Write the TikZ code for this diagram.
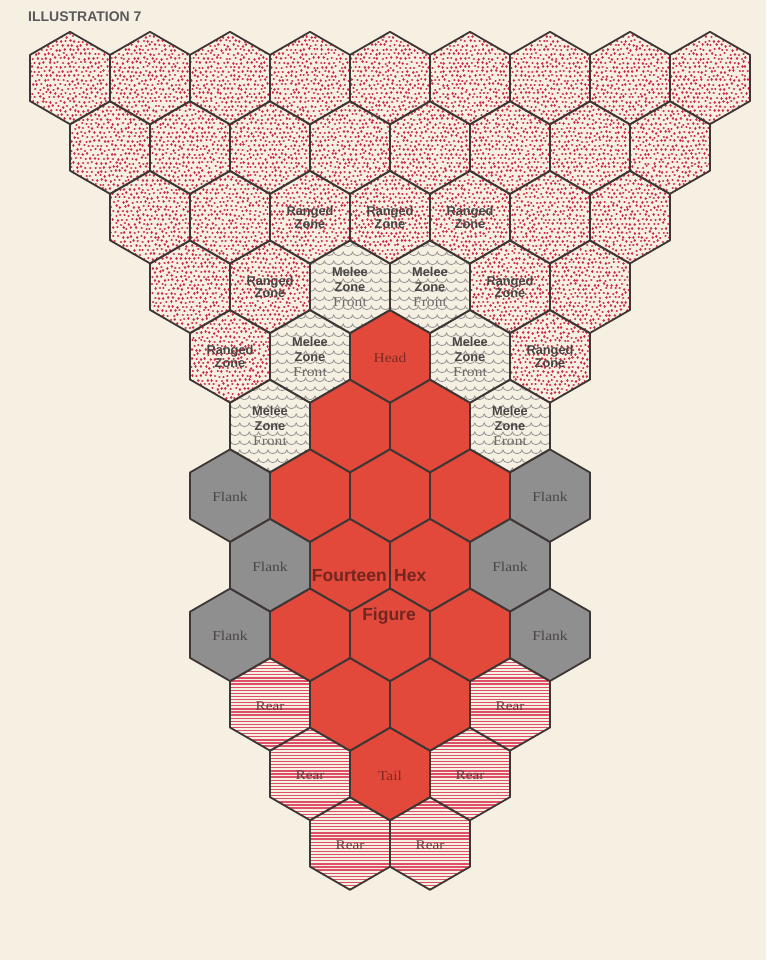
\documentclass[tikz,border=0pt]{standalone}
\usepackage{fontspec}
\setmainfont{Liberation Serif}
\setsansfont{Liberation Sans}
\newfontfamily\lblserif[FakeStretch=1.15]{Liberation Serif}
\definecolor{paper}{HTML}{F6F0E3}
\definecolor{hexred}{HTML}{E2493A}
\definecolor{flankgray}{HTML}{8F8F8F}
\definecolor{edge}{HTML}{3D3634}
\definecolor{dotred}{HTML}{CC2C46}
\definecolor{stripe}{HTML}{DC4F66}
\definecolor{wave}{HTML}{959391}
\definecolor{inkgray}{HTML}{4A4545}
\definecolor{inkred}{HTML}{7E2A22}
\definecolor{frontgray}{HTML}{6E6A68}
\newcommand\hx[2]{(#1,#2-46.2) -- (#1+40,#2-23.1) -- (#1+40,#2+23.1) -- (#1,#2+46.2) -- (#1-40,#2+23.1) -- (#1-40,#2-23.1) -- cycle}
\begin{document}
\begin{tikzpicture}[x=1pt,y=-1pt,
  hexedge/.style={draw=edge,line width=1.8pt,line join=round},
  dotstyle/.style={draw=dotred,line width=2.5pt,line cap=round},
  ranged/.style={font=\sffamily\bfseries\fontsize{12.8}{12.8}\selectfont,text=inkgray,align=center,inner sep=0pt},
  melee/.style={font=\sffamily\bfseries\fontsize{12.8}{15}\selectfont,text=inkgray,align=center,inner sep=0pt},
  redlbl/.style={font=\lblserif\fontsize{13.5}{13.5}\selectfont,text=inkred,inner sep=0pt},
  flanklbl/.style={font=\lblserif\fontsize{13.5}{13.5}\selectfont,text=inkgray,inner sep=0pt},
  rearlbl/.style={font=\lblserif\fontsize{13.3}{13.3}\selectfont,text=inkgray!90!red,inner sep=0pt},
  biglbl/.style={font=\sffamily\bfseries\fontsize{17.5}{17.5}\selectfont,text=inkred!90!black,inner sep=0pt},
  titlelbl/.style={font=\sffamily\bfseries\fontsize{14}{14}\selectfont,text=black!65,inner sep=0pt}]
\useasboundingbox (0,0) rectangle (766,960);
\fill[paper] (0,0) rectangle (766,960);
% red figure
\fill[hexred] \hx{390}{356.4}
  \hx{350}{426} \hx{430}{426}
  \hx{310}{495.6} \hx{390}{495.6} \hx{470}{495.6}
  \hx{350}{565.2} \hx{430}{565.2}
  \hx{310}{634.8} \hx{390}{634.8} \hx{470}{634.8}
  \hx{350}{704.4} \hx{430}{704.4}
  \hx{390}{774};
% flanks
\fill[flankgray] \hx{230}{495.6} \hx{550}{495.6} \hx{270}{565.2} \hx{510}{565.2} \hx{230}{634.8} \hx{550}{634.8};
% dotted zone
\begin{scope}
\clip \foreach \x in {70,150,...,710} {\hx{\x}{78}}
      \foreach \x in {110,190,...,670} {\hx{\x}{147.6}}
      \foreach \x in {150,230,...,630} {\hx{\x}{217.2}}
      \foreach \x in {190,270,510,590} {\hx{\x}{286.8}}
      \foreach \x in {230,550} {\hx{\x}{356.4}};
\pgfmathsetseed{7}
\foreach \j in {0,...,88} {
  \draw[dotstyle] \foreach \i in {0,...,160} { ({26+\i*4.6+mod(\j,2)*2.3+rand*1.1},{28+\j*4.35+rand*1.1}) -- ++(0.05,0) };
}
\end{scope}
% melee waves
\begin{scope}
\clip \hx{350}{286.8} \hx{430}{286.8} \hx{310}{356.4} \hx{470}{356.4} \hx{270}{426} \hx{510}{426};
\foreach \j in {0,...,28} {
  \draw[wave,line width=0.8pt] (221,234+\j*9) \foreach \i in {1,...,38} { arc[start angle=180,end angle=0,x radius=4.7,y radius=3.6] };
}
\end{scope}
% rear stripes
\begin{scope}
\clip \hx{270}{704.4} \hx{510}{704.4} \hx{310}{774} \hx{470}{774} \hx{350}{843.6} \hx{430}{843.6};
\draw[stripe,line width=1.35pt] \foreach \j in {0,...,80} { (220,650+\j*3.1) -- (560,650+\j*3.1) };
\end{scope}
% outlines
\draw[hexedge]
  \foreach \x in {70,150,...,710} {\hx{\x}{78}}
  \foreach \x in {110,190,...,670} {\hx{\x}{147.6}}
  \foreach \x in {150,230,...,630} {\hx{\x}{217.2}}
  \foreach \x in {190,270,...,590} {\hx{\x}{286.8}}
  \foreach \x in {230,310,...,550} {\hx{\x}{356.4}}
  \foreach \x in {270,350,...,510} {\hx{\x}{426}}
  \foreach \x in {230,310,...,550} {\hx{\x}{495.6}}
  \foreach \x in {270,350,...,510} {\hx{\x}{565.2}}
  \foreach \x in {230,310,...,550} {\hx{\x}{634.8}}
  \foreach \x in {270,350,...,510} {\hx{\x}{704.4}}
  \foreach \x in {310,390,470} {\hx{\x}{774}}
  \foreach \x in {350,430} {\hx{\x}{843.6}};
% labels
\node[titlelbl,anchor=west] (title) at (28,17) {ILLUSTRATION 7};
\node[ranged] (r1) at (310,217.5) {Ranged\\Zone};
\node[ranged] (r2) at (390,217.5) {Ranged\\Zone};
\node[ranged] (r3) at (470,217.5) {Ranged\\Zone};
\node[ranged] (r4) at (270,287) {Ranged\\Zone};
\node[ranged] (r5) at (510,287) {Ranged\\Zone};
\node[ranged] (r6) at (230,356.5) {Ranged\\Zone};
\node[ranged] (r7) at (550,356.5) {Ranged\\Zone};
\node[melee] (m1) at (350,287) {Melee\\Zone\\{\lblserif\mdseries\fontsize{13.5}{15}\selectfont\color{frontgray}Front}};
\node[melee] (m2) at (430,287) {Melee\\Zone\\{\lblserif\mdseries\fontsize{13.5}{15}\selectfont\color{frontgray}Front}};
\node[melee] (m3) at (310,356.5) {Melee\\Zone\\{\lblserif\mdseries\fontsize{13.5}{15}\selectfont\color{frontgray}Front}};
\node[melee] (m4) at (470,356.5) {Melee\\Zone\\{\lblserif\mdseries\fontsize{13.5}{15}\selectfont\color{frontgray}Front}};
\node[melee] (m5) at (270,426) {Melee\\Zone\\{\lblserif\mdseries\fontsize{13.5}{15}\selectfont\color{frontgray}Front}};
\node[melee] (m6) at (510,426) {Melee\\Zone\\{\lblserif\mdseries\fontsize{13.5}{15}\selectfont\color{frontgray}Front}};
\node[redlbl] (head) at (390,358) {Head};
\node[redlbl] (tail) at (390,776) {Tail};
\node[flanklbl] (f1) at (230,497) {Flank};
\node[flanklbl] (f2) at (550,497) {Flank};
\node[flanklbl] (f3) at (270,566.5) {Flank};
\node[flanklbl] (f4) at (510,566.5) {Flank};
\node[flanklbl] (f5) at (230,636) {Flank};
\node[flanklbl] (f6) at (550,636) {Flank};
\node[rearlbl] (b1) at (270,706) {Rear};
\node[rearlbl] (b2) at (510,706) {Rear};
\node[rearlbl] (b3) at (310,775.5) {Rear};
\node[rearlbl] (b4) at (470,775.5) {Rear};
\node[rearlbl] (b5) at (350,845) {Rear};
\node[rearlbl] (b6) at (430,845) {Rear};
\node[biglbl,anchor=east] (fourteen) at (387,575.5) {Fourteen};
\node[biglbl,anchor=west] (hex) at (394,575.5) {Hex};
\node[biglbl] (figure) at (389,616) {Figure};
\end{tikzpicture}
\end{document}
